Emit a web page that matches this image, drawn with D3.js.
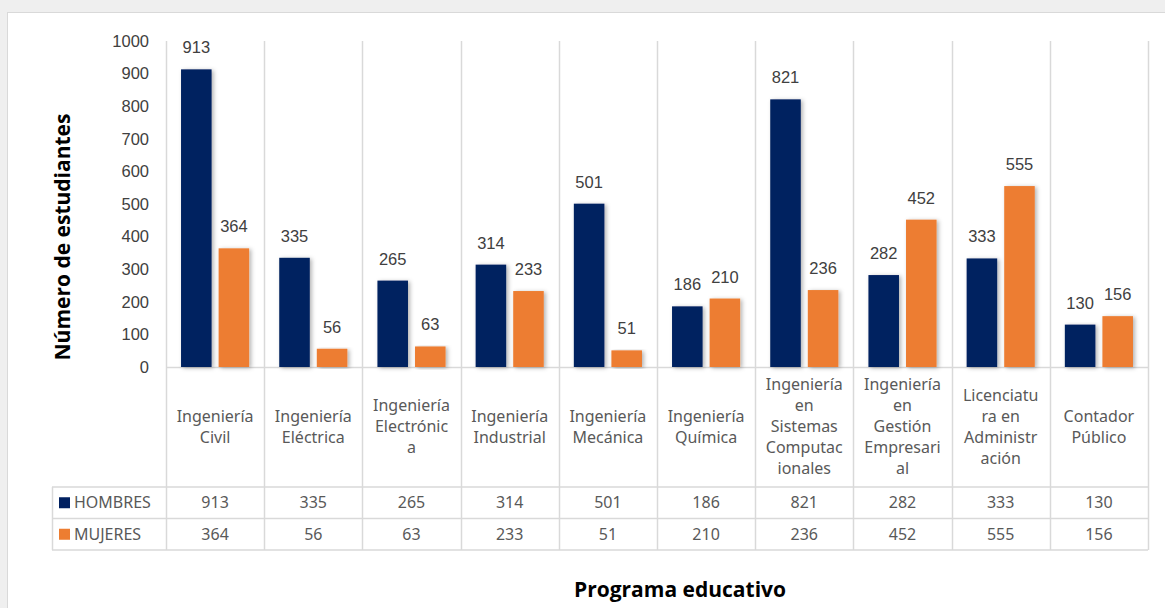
<!DOCTYPE html>
<html lang="es">
<head>
<meta charset="utf-8">
<title>Estudiantes por programa educativo</title>
<script src="https://cdn.jsdelivr.net/npm/d3@7"></script>
<style>
  body { margin: 0; background: #efefef; }
  svg { display: block; }
</style>
</head>
<body>
<script>
// datos
var categories = ["Ingeniería Civil", "Ingeniería Eléctrica", "Ingeniería Electrónica",
  "Ingeniería Industrial", "Ingeniería Mecánica", "Ingeniería Química",
  "Ingeniería en Sistemas Computacionales", "Ingeniería en Gestión Empresarial",
  "Licenciatura en Administración", "Contador Público"];
// como Excel corta las etiquetas dentro de la celda
var categoryLines = [
  ["Ingeniería", "Civil"], ["Ingeniería", "Eléctrica"], ["Ingeniería", "Electrónic", "a"],
  ["Ingeniería", "Industrial"], ["Ingeniería", "Mecánica"], ["Ingeniería", "Química"],
  ["Ingeniería", "en", "Sistemas", "Computac", "ionales"],
  ["Ingeniería", "en", "Gestión", "Empresari", "al"],
  ["Licenciatu", "ra en", "Administr", "ación"], ["Contador", "Público"]];
var series = ["HOMBRES", "MUJERES"];
var hombres = [913, 335, 265, 314, 501, 186, 821, 282, 333, 130];
var mujeres = [364, 56, 63, 233, 51, 210, 236, 452, 555, 156];
var yTicks = [0, 100, 200, 300, 400, 500, 600, 700, 800, 900, 1000];
var colors = ["#002060", "#ED7D31"];

var values = [hombres, mujeres];
var w = 1165, h = 608;
var plotLeft = 166, plotRight = 1148, plotTop = 41, base = 367;
var tableTop = 487, rowH = 31.5, tableLeft = 52;
var grid = "#d9d9d9";

var svg = d3.select("body").append("svg")
  .attr("width", w)
  .attr("height", h);

var defs = svg.append("defs");
var f = defs.append("filter").attr("id", "shadow")
  .attr("x", "-20%").attr("y", "-5%").attr("width", "150%").attr("height", "115%");
f.append("feDropShadow").attr("dx", 2).attr("dy", 1).attr("stdDeviation", 2)
  .attr("flood-color", "#000").attr("flood-opacity", 0.3);

svg.append("rect")
  .attr("x", 7.5).attr("y", 12.5)
  .attr("width", w).attr("height", h)
  .attr("fill", "white")
  .attr("stroke", grid);

var x = d3.scaleBand().domain(categories).range([plotLeft, plotRight]);
var xs = d3.scaleBand().domain(series).range([0, x.bandwidth()])
  .paddingInner(0.187).paddingOuter(0.4);
var y = d3.scaleLinear().domain([0, 1000]).range([base, plotTop]);

// líneas verticales de categoría (del tope hasta el fondo de la tabla)
var tableBottom = tableTop + rowH * 2;
var bounds = categories.map(function(c) { return x(c); }).concat([plotRight]);
svg.selectAll("line.vgrid").data(bounds).enter().append("line")
  .attr("class", "vgrid")
  .attr("x1", function(d) { return Math.round(d) + 0.5; })
  .attr("x2", function(d) { return Math.round(d) + 0.5; })
  .attr("y1", plotTop).attr("y2", tableBottom)
  .attr("stroke", grid).attr("stroke-width", 1.5);

// eje x
svg.append("line")
  .attr("x1", plotLeft).attr("x2", plotRight)
  .attr("y1", base + 0.5).attr("y2", base + 0.5)
  .attr("stroke", grid).attr("stroke-width", 1.5);

// tabla
[tableTop, tableTop + rowH, tableBottom].forEach(function(yy) {
  svg.append("line")
    .attr("x1", tableLeft).attr("x2", plotRight)
    .attr("y1", yy).attr("y2", yy)
    .attr("stroke", grid).attr("stroke-width", 1.5);
});
svg.append("line")
  .attr("x1", tableLeft + 0.5).attr("x2", tableLeft + 0.5)
  .attr("y1", tableTop).attr("y2", tableBottom)
  .attr("stroke", grid).attr("stroke-width", 1.5);

// eje y
var yAxis = svg.append("g")
  .attr("transform", "translate(" + (plotLeft - 17) + ",0)")
  .call(d3.axisLeft(y).tickValues(yTicks).tickSize(0).tickPadding(0)
    .tickFormat(d3.format("d")));
yAxis.select(".domain").remove();
yAxis.selectAll("text")
  .attr("font-family", "Liberation Sans, Arial, sans-serif")
  .attr("font-size", "16.5px")
  .attr("fill", "#404040");

// barras
series.forEach(function(s, si) {
  var g = svg.append("g");
  g.selectAll("rect").data(values[si]).enter().append("rect")
    .attr("x", function(d, i) { return x(categories[i]) + xs(s); })
    .attr("y", function(d) { return y(d); })
    .attr("width", xs.bandwidth())
    .attr("height", function(d) { return base - y(d); })
    .attr("fill", colors[si])
    .attr("filter", "url(#shadow)");
  g.selectAll("text").data(values[si]).enter().append("text")
    .text(function(d) { return d; })
    .attr("x", function(d, i) { return x(categories[i]) + xs(s) + xs.bandwidth() / 2; })
    .attr("y", function(d) { return y(d) - 16; })
    .attr("text-anchor", "middle")
    .attr("font-family", "Liberation Sans, Arial, sans-serif")
    .attr("font-size", "16.5px")
    .attr("fill", "#404040");
});

// etiquetas de categoría
var lineH = 21;
var catMid = (base + tableTop) / 2;
categories.forEach(function(c, i) {
  var lines = categoryLines[i];
  var t = svg.append("text")
    .attr("text-anchor", "middle")
    .attr("font-family", "Noto Sans, sans-serif")
    .attr("font-size", "16px")
    .attr("fill", "#595959");
  lines.forEach(function(l, k) {
    t.append("tspan")
      .attr("x", x(c) + x.bandwidth() / 2)
      .attr("y", catMid + (k - (lines.length - 1) / 2) * lineH + 5)
      .text(l);
  });
});

// filas de la tabla
series.forEach(function(s, si) {
  var rowY = tableTop + rowH * si + rowH / 2;
  svg.append("rect")
    .attr("x", 59).attr("y", rowY - 5.5)
    .attr("width", 11).attr("height", 11)
    .attr("fill", colors[si]);
  svg.append("text")
    .attr("x", 74).attr("y", rowY + 5.5)
    .attr("font-family", "Noto Sans, sans-serif")
    .attr("font-size", "16px")
    .attr("fill", "#595959")
    .text(s);
  svg.selectAll("text.cell" + si).data(values[si]).enter().append("text")
    .attr("class", "cell" + si)
    .attr("x", function(d, i) { return x(categories[i]) + x.bandwidth() / 2; })
    .attr("y", rowY + 5.5)
    .attr("text-anchor", "middle")
    .attr("font-family", "Noto Sans, sans-serif")
    .attr("font-size", "16px")
    .attr("fill", "#595959")
    .text(function(d) { return d; });
});

// títulos de ejes
svg.append("text")
  .attr("x", 680).attr("y", 597)
  .attr("text-anchor", "middle")
  .attr("font-family", "Open Sans, Noto Sans, sans-serif")
  .attr("font-weight", "bold")
  .attr("font-size", "21px")
  .attr("fill", "#000")
  .text("Programa educativo");

svg.append("text")
  .attr("transform", "translate(70,237) rotate(-90)")
  .attr("text-anchor", "middle")
  .attr("font-family", "Open Sans, Noto Sans, sans-serif")
  .attr("font-weight", "bold")
  .attr("font-size", "21px")
  .attr("fill", "#000")
  .text("Número de estudiantes");
</script>
</body>
</html>
